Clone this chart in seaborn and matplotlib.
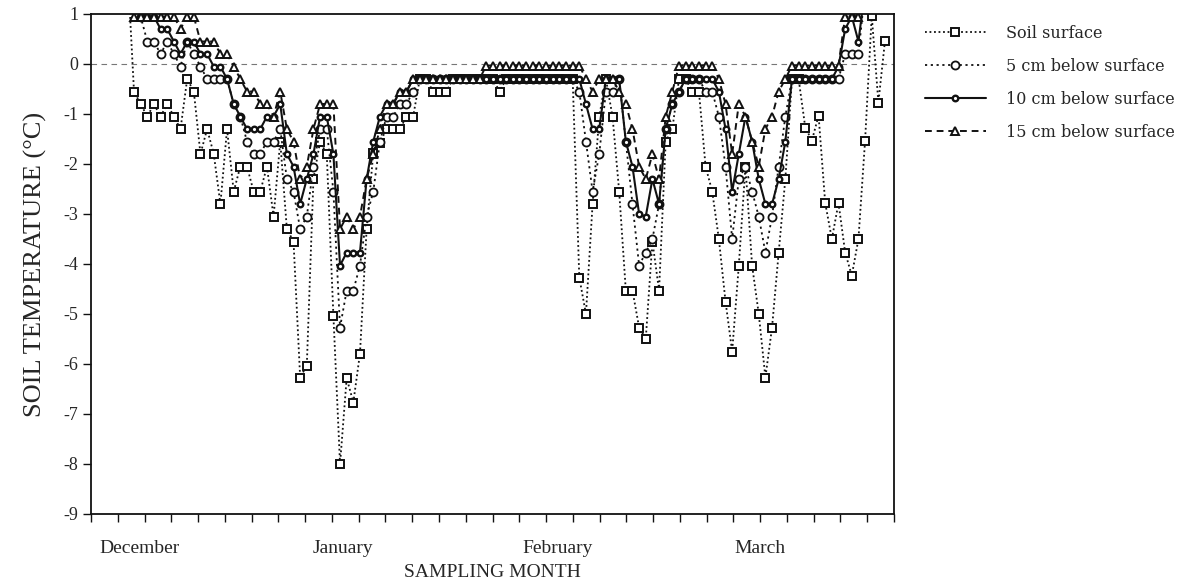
import numpy as np
import pandas as pd
import matplotlib
matplotlib.use("Agg")
import matplotlib.pyplot as plt
import seaborn as sns

nan = np.nan
# day index (0..119) across the sampling period
days = list(range(120))

soil_surface = [nan, nan, nan, nan, nan, 2.0,
    -0.55, -0.8, -1.05, -0.8, -1.05, -0.8, -1.05, -1.3, -0.3, -0.55,
    -1.8, -1.3, -1.8, -2.8, -1.3, -2.55, -2.05, -2.05, -2.55, -2.55,
    -2.05, -3.05, -1.55, -3.3, -3.55, -6.27, -6.03, -2.3, -1.55, -1.8,
    -5.03, -8.0, -6.28, -6.77, -5.79, -3.3, -1.78, -1.57, -1.3, -1.3,
    -1.3, -1.05, -1.05, -0.3, -0.3, -0.55, -0.55, -0.55, -0.3, -0.3,
    -0.3, -0.3, -0.3, -0.3, -0.3, -0.55, -0.3, -0.3, -0.3, -0.3,
    -0.3, -0.3, -0.3, -0.3, -0.3, -0.3, -0.3, -4.27, -5.0, -2.8,
    -1.05, -0.3, -1.05, -2.55, -4.53, -4.53, -5.27, -5.5, -3.55, -4.53,
    -1.55, -1.3, -0.3, -0.3, -0.55, -0.55, -2.05, -2.55, -3.5, -4.75,
    -5.75, -4.03, -2.05, -4.03, -5.0, -6.27, -5.27, -3.77, -2.3, -0.3,
    -0.3, -1.27, -1.53, -1.03, -2.78, -3.5, -2.78, -3.77, -4.23, -3.5,
    -1.53, 0.97, -0.77, 0.47]

cm5 = [nan, nan, nan, nan, nan, nan,
    1.5, 0.95, 0.45, 0.45, 0.2, 0.45, 0.2, -0.05, 0.45, 0.2,
    -0.05, -0.3, -0.3, -0.3, -0.3, -0.8, -1.05, -1.55, -1.8, -1.8,
    -1.55, -1.55, -1.3, -2.3, -2.55, -3.3, -3.05, -2.05, -1.3, -1.3,
    -2.55, -5.27, -4.53, -4.53, -4.03, -3.05, -2.55, -1.55, -1.05, -1.05,
    -0.8, -0.8, -0.55, -0.3, -0.3, -0.3, -0.3, -0.3, -0.3, -0.3,
    -0.3, -0.3, -0.3, -0.3, -0.3, -0.3, -0.3, -0.3, -0.3, -0.3,
    -0.3, -0.3, -0.3, -0.3, -0.3, -0.3, -0.3, -0.55, -1.55, -2.55,
    -1.8, -0.55, -0.55, -0.3, -1.55, -2.8, -4.03, -3.77, -3.5, -2.8,
    -1.3, -0.8, -0.55, -0.3, -0.3, -0.3, -0.55, -0.55, -1.05, -2.05,
    -3.5, -2.3, -2.05, -2.55, -3.05, -3.77, -3.05, -2.05, -1.05, -0.3,
    -0.3, -0.3, -0.3, -0.3, -0.3, -0.3, -0.3, 0.2, 0.2, 0.2,
    1.5, 1.5, 1.5, 1.5]

cm10 = [nan, nan, nan, nan, nan, nan,
    1.2, 0.95, 0.95, 0.95, 0.7, 0.7, 0.45, 0.2, 0.45, 0.45,
    0.2, 0.2, -0.05, -0.05, -0.3, -0.8, -1.05, -1.3, -1.3, -1.3,
    -1.05, -1.05, -0.8, -1.8, -2.05, -2.8, -2.3, -1.8, -1.05, -1.05,
    -1.8, -4.03, -3.77, -3.77, -3.77, -2.3, -1.55, -1.05, -0.8, -0.8,
    -0.55, -0.55, -0.3, -0.3, -0.3, -0.3, -0.3, -0.3, -0.3, -0.3,
    -0.3, -0.3, -0.3, -0.3, -0.3, -0.3, -0.3, -0.3, -0.3, -0.3,
    -0.3, -0.3, -0.3, -0.3, -0.3, -0.3, -0.3, -0.3, -0.8, -1.3,
    -1.3, -0.3, -0.3, -0.3, -1.55, -2.05, -3.0, -3.05, -2.3, -2.8,
    -1.3, -0.8, -0.55, -0.3, -0.3, -0.3, -0.3, -0.3, -0.55, -1.3,
    -2.55, -1.8, -1.05, -1.55, -2.3, -2.8, -2.8, -2.3, -1.55, -0.3,
    -0.3, -0.3, -0.3, -0.3, -0.3, -0.3, -0.05, 0.7, 0.95, 0.45,
    1.5, 1.5, 1.5, 1.5]

cm15 = [nan, nan, nan, nan, nan, 1.5,
    0.95, 0.95, 0.95, 0.95, 0.95, 0.95, 0.95, 0.7, 0.95, 0.95,
    0.45, 0.45, 0.45, 0.2, 0.2, -0.05, -0.3, -0.55, -0.55, -0.8,
    -0.8, -1.05, -0.55, -1.3, -1.55, -2.3, -2.05, -1.3, -0.8, -0.8,
    -0.8, -3.3, -3.05, -3.3, -3.05, -2.3, -1.8, -1.3, -0.8, -0.8,
    -0.55, -0.55, -0.3, -0.3, -0.3, -0.3, -0.3, -0.3, -0.3, -0.3,
    -0.3, -0.3, -0.3, -0.03, -0.03, -0.03, -0.03, -0.03, -0.03, -0.03,
    -0.03, -0.03, -0.03, -0.03, -0.03, -0.03, -0.03, -0.03, -0.3, -0.55,
    -0.3, -0.3, -0.3, -0.55, -0.8, -1.3, -2.05, -2.3, -1.8, -2.3,
    -1.05, -0.55, -0.03, -0.03, -0.03, -0.03, -0.03, -0.03, -0.3, -0.8,
    -1.8, -0.8, -1.05, -1.55, -2.05, -1.3, -1.05, -0.55, -0.3, -0.03,
    -0.03, -0.03, -0.03, -0.03, -0.03, -0.03, -0.03, 0.95, 0.95, 0.95,
    1.5, 1.5, 1.5, 1.5]

for s in (soil_surface, cm5, cm10, cm15):
    assert len(s) == len(days), len(s)

series_names = ["Soil surface", "5 cm below surface", "10 cm below surface", "15 cm below surface"]
month_labels = ["December", "January", "February", "March"]
month_pos = [6.9, 37.5, 69.7, 100.2]
ytick_vals = list(range(-9, 2))

sns.set_theme(style="white")
plt.rcParams["font.family"] = ["Liberation Serif", "DejaVu Serif"]

fig = plt.figure(figsize=(11.89, 5.87), dpi=100)
ax = fig.add_axes([91 / 1189, 1 - 514 / 587, (894 - 91) / 1189, 500 / 587])

ink = "#111111"
styles = [
    dict(marker="s", markersize=5.6, markeredgewidth=1.4, linestyle=(0, (1, 1.5)), linewidth=1.3),
    dict(marker="o", markersize=5.8, markeredgewidth=1.3, linestyle=(0, (1.2, 2.0)), linewidth=1.3),
    dict(marker="o", markersize=4.0, markeredgewidth=1.7, linestyle="-", linewidth=1.5),
    dict(marker="^", markersize=5.8, markeredgewidth=1.4, linestyle=(0, (3.5, 2.5)), linewidth=1.4),
]
for name, vals, st in zip(series_names, [soil_surface, cm5, cm10, cm15], styles):
    df = pd.DataFrame({"day": days, "temp": vals}).dropna()
    sns.lineplot(data=df, x="day", y="temp", ax=ax, color=ink, label=name,
                 markerfacecolor="white", markeredgecolor=ink, sort=True, **st)

ax.axhline(0, color="#777777", linewidth=0.8, linestyle=(0, (5, 4)), zorder=0)

x0, x1 = -0.47, 120.35
ax.set_xlim(x0, x1)
ax.set_ylim(-9, 1)
ax.set_xticks(np.linspace(x0, x1, 31))
ax.set_xticklabels([])
ax.set_xticks(month_pos, minor=True)
ax.set_xticklabels(month_labels, minor=True, fontsize=14, family="Liberation Serif")
ax.tick_params(axis="x", which="major", direction="out", length=6, width=1, color=ink, bottom=True)
ax.tick_params(axis="x", which="minor", length=0, pad=19, bottom=True)
ax.set_yticks(ytick_vals)
ax.set_yticklabels([str(v) for v in ytick_vals], fontsize=13, family="Liberation Serif")
ax.tick_params(axis="y", direction="out", length=6, width=1, color=ink, left=True, pad=3)

for sp in ax.spines.values():
    sp.set_color(ink)
    sp.set_linewidth(1.3)

ax.set_xlabel("SAMPLING MONTH", fontsize=14, labelpad=5, family="Liberation Serif")
ax.set_ylabel("SOIL TEMPERATURE (\u00b0C)", fontsize=19, labelpad=12, family="Liberation Serif")

leg = ax.legend(loc="upper left", bbox_to_anchor=((925 - 91) / 803, 0.978), frameon=False,
                prop={"family": "DejaVu Serif", "size": 11.5},
                handlelength=3.8, handletextpad=1.25, labelspacing=1.0,
                borderaxespad=0, borderpad=0)

fig.savefig("out.png", dpi=100)
